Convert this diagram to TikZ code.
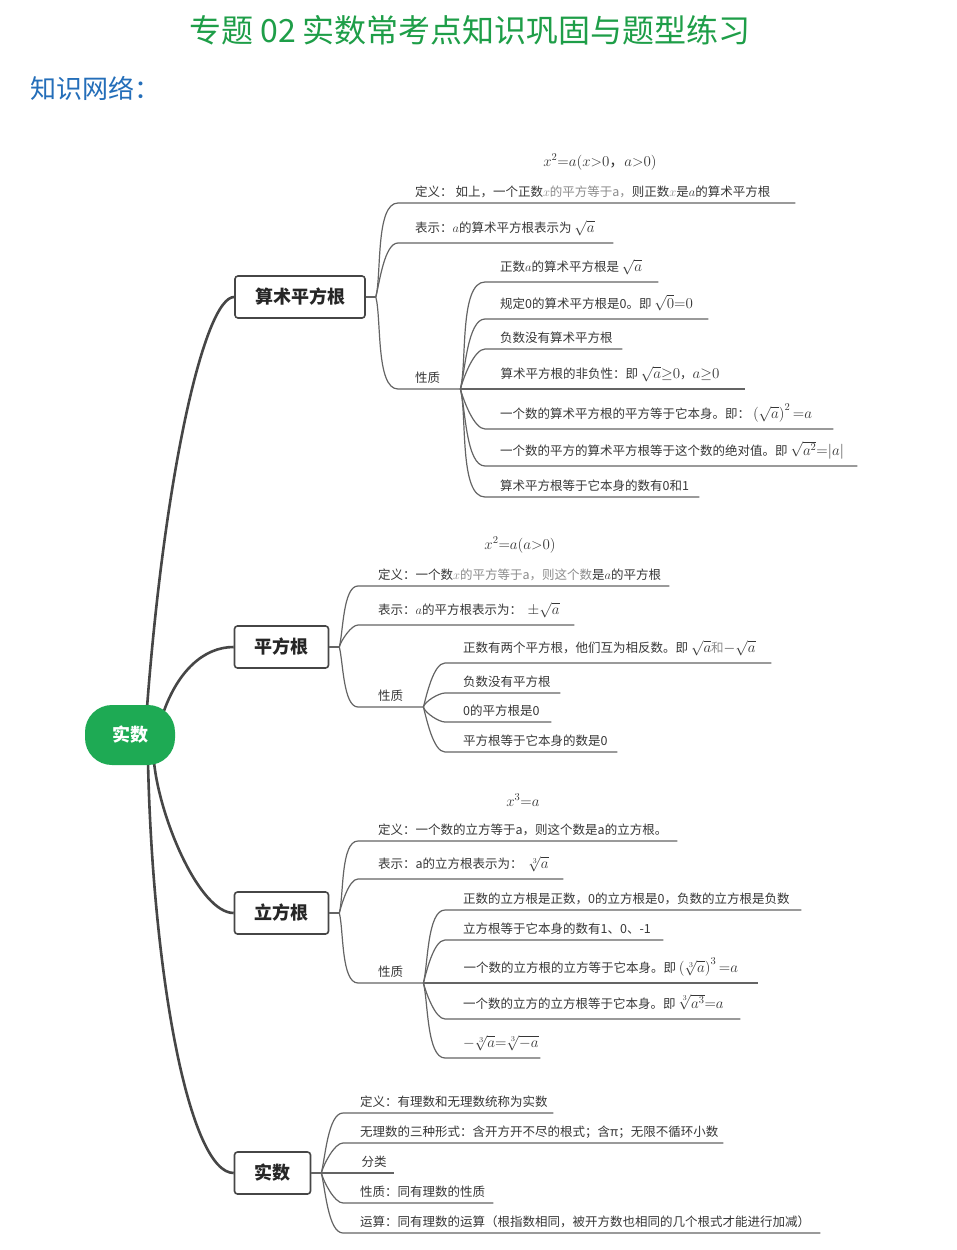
\RequirePackage{fix-cm}
\documentclass[tikz,border=0pt]{standalone}
\usepackage{tikz}
\usepackage{fontspec}
\setmainfont{Noto Sans CJK SC}
\usetikzlibrary{calc}
\pgfdeclarelayer{bg}
\pgfdeclarelayer{paper}
\pgfsetlayers{paper,bg,main}
\definecolor{ttl}{RGB}{30,158,72}
\definecolor{blu}{RGB}{36,110,185}
\definecolor{rootg}{RGB}{30,170,84}
\definecolor{ln}{RGB}{70,70,70}
\definecolor{brl}{RGB}{100,100,100}
\definecolor{txt}{RGB}{55,55,55}
\definecolor{ltg}{RGB}{140,140,140}
\newcommand\lgt{\color{ltg}}
\newcommand\leafbox[3]{\makebox[#1pt][l]{\hspace*{#2pt}#3}}
\newcommand\fm[1]{{\fontsize{15}{15}\selectfont$#1$}}
\begin{document}
\begin{tikzpicture}[x=1pt,y=-1pt,
  topic/.style={draw=ln, line width=1.6pt, rounded corners=3pt, fill=white, minimum height=42pt, inner xsep=20pt, font=\fontsize{18}{18}\selectfont\bfseries, text=black!85},
  rootn/.style={fill=rootg, rounded corners=27pt, minimum width=90pt, minimum height=60pt, text=white, font=\fontsize{18}{18}\selectfont\bfseries},
  mainl/.style={draw=ln, line width=2.6pt},
  br/.style={draw=brl, line width=1.2pt},
  leaf/.style={anchor=south west, inner sep=0pt, text depth=6.2pt, text=txt, font=\fontsize{12.5}{14}\selectfont},
  fml/.style={text depth=10.5pt},
  brup/.style={out=75,in=180,looseness=0.6},
  brdn/.style={out=-75,in=180,looseness=0.6},
  eqn/.style={font=\fontsize{15}{15}\selectfont, text=txt, inner sep=0pt}]
\begin{pgfonlayer}{paper}
\fill[white] (0,0) rectangle (957,1250);
\end{pgfonlayer}
\useasboundingbox (0,0) rectangle (957,1250);

% titles
\node[text=ttl, font=\fontsize{32}{32}\selectfont] (title) at (470,30) {专题 02 实数常考点知识巩固与题型练习};
\node[text=blu, anchor=west, font=\fontsize{26}{26}\selectfont, inner sep=0pt] (kw) at (30,88) {知识网络：};

% root and topics
\node[rootn] (root) at (130,735) {实数};
\node[topic] (t1) at (300,297) {算术平方根};
\node[topic] (t2) at (281.5,647) {平方根};
\node[topic] (t3) at (281.5,913) {立方根};
\node[topic] (t4) at (272.5,1173) {实数};

\coordinate (s1) at ($(root.north)+(17,3)$);
\coordinate (s2) at ($(root.north)+(34,6)$);
\coordinate (s3) at ($(root.south)+(24,-3)$);
\coordinate (s4) at ($(root.south)+(18,-3)$);
\begin{pgfonlayer}{bg}
\draw[mainl] (s1) .. controls (165,470) and (205,297) .. (t1.west);
\draw[mainl] (s2) .. controls (178,672) and (203,647) .. (t2.west);
\draw[mainl] (s3) .. controls (160,820) and (200,913) .. (t3.west);
\draw[mainl] (s4) .. controls (153,980) and (190,1173) .. (t4.west);
\end{pgfonlayer}

% forks
\coordinate (k1) at ($(t1.east)+(10,0)$);
\coordinate (k2) at ($(t2.east)+(10,0)$);
\coordinate (k3) at ($(t3.east)+(10,0)$);
\coordinate (k4) at ($(t4.east)+(10,0)$);
\draw[br] (t1.east) -- (k1);
\draw[br] (t2.east) -- (k2);
\draw[br] (t3.east) -- (k3);
\draw[br] (t4.east) -- (k4);

% ===== 算术平方根 =====
\node[eqn] (q1) at (600,162) {$x^2{=}a(x{>}0$，$a{>}0)$};
\node[leaf] (a11) at (398,203) {\leafbox{397}{17}{定义：~如上，一个正数{\lgt $x$的平方等于a，}则正数{\lgt $x$}是$a$的算术平方根}};
\node[leaf,fml] (a12) at (398,243) {\leafbox{215}{17}{表示：$a$的算术平方根表示为~\fm{\sqrt{a}}}};
\node[leaf] (a13) at (398,389) {\leafbox{62}{17}{性质}};
\draw[br] (k1) to[brup] (a11.south west) -- (a11.south east);
\draw[br] (k1) to[brup] (a12.south west) -- (a12.south east);
\draw[br] (k1) to[brdn] (a13.south west) -- (a13.south east);

\node[leaf,fml] (b1) at (485,282) {\leafbox{173}{15}{正数$a$的算术平方根是~\fm{\sqrt{a}}}};
\node[leaf,fml] (b2) at (485,319) {\leafbox{223}{15}{规定0的算术平方根是0。即~\fm{\sqrt{0}{=}0}}};
\node[leaf] (b3) at (485,349) {\leafbox{137}{15}{负数没有算术平方根}};
\node[leaf,fml] (b4) at (a13.south east) {\leafbox{284}{40}{算术平方根的非负性：即~\fm{\sqrt{a}{\geq}0}，\fm{a{\geq}0}}};
\node[leaf,fml] (b5) at (485,429) {\leafbox{348}{15}{一个数的算术平方根的平方等于它本身。即：~\fm{\left(\sqrt{a}\right)^2{=}a}}};
\node[leaf,fml] (b6) at (485,466) {\leafbox{372}{15}{一个数的平方的算术平方根等于这个数的绝对值。即~\fm{\sqrt{a^2}{=}|a|}}};
\node[leaf] (b7) at (485,497) {\leafbox{214}{15}{算术平方根等于它本身的数有0和1}};
\draw[br] (a13.south east) to[brup] (b1.south west) -- (b1.south east);
\draw[br] (a13.south east) to[brup] (b2.south west) -- (b2.south east);
\draw[br] (a13.south east) to[brup] (b3.south west) -- (b3.south east);
\draw[br] (a13.south east) -- (b4.south east);
\draw[br] (a13.south east) to[brdn] (b5.south west) -- (b5.south east);
\draw[br] (a13.south east) to[brdn] (b6.south west) -- (b6.south east);
\draw[br] (a13.south east) to[brdn] (b7.south west) -- (b7.south east);

% ===== 平方根 =====
\node[eqn] (q2) at (520,545) {$x^2{=}a(a{>}0)$};
\node[leaf] (c1) at (358,586) {\leafbox{311}{20}{定义：一个数{\lgt $x$的平方等于a，则这个数}是$a$的平方根}};
\node[leaf,fml] (c2) at (358,625) {\leafbox{216}{20}{表示：$a$的平方根表示为：~~\fm{\pm\sqrt{a}}}};
\node[leaf] (c3) at (358,707) {\leafbox{65}{20}{性质}};
\draw[br] (k2) to[brup] (c1.south west) -- (c1.south east);
\draw[br] (k2) to[brup] (c2.south west) -- (c2.south east);
\draw[br] (k2) to[brdn] (c3.south west) -- (c3.south east);

\node[leaf,fml] (d1) at (445,663) {\leafbox{326}{18}{正数有两个平方根，他们互为相反数。即~\fm{\sqrt{a}}{\lgt 和}\fm{{-}\sqrt{a}}}};
\node[leaf] (d2) at (445,693) {\leafbox{115}{18}{负数没有平方根}};
\node[leaf] (d3) at (445,722) {\leafbox{106}{18}{0的平方根是0}};
\node[leaf] (d4) at (445,752) {\leafbox{172}{18}{平方根等于它本身的数是0}};
\draw[br] (c3.south east) to[brup] (d1.south west) -- (d1.south east);
\draw[br] (c3.south east) to[brup] (d2.south west) -- (d2.south east);
\draw[br] (c3.south east) to[brdn] (d3.south west) -- (d3.south east);
\draw[br] (c3.south east) to[brdn] (d4.south west) -- (d4.south east);

% ===== 立方根 =====
\node[eqn] (q3) at (523,800) {$x^3{=}a$};
\node[leaf] (e1) at (358,841) {\leafbox{319}{20}{定义：一个数的立方等于a，则这个数是a的立方根。}};
\node[leaf,fml] (e2) at (358,879) {\leafbox{205}{20}{表示：a的立方根表示为：~~\fm{\sqrt[3]{a}}}};
\node[leaf] (e3) at (358,983) {\leafbox{65}{20}{性质}};
\draw[br] (k3) to[brup] (e1.south west) -- (e1.south east);
\draw[br] (k3) to[brup] (e2.south west) -- (e2.south east);
\draw[br] (k3) to[brdn] (e3.south west) -- (e3.south east);

\node[leaf] (g1) at (445,910) {\leafbox{356}{18}{正数的立方根是正数，0的立方根是0，负数的立方根是负数}};
\node[leaf] (g2) at (445,940) {\leafbox{218}{18}{立方根等于它本身的数有1、0、-1}};
\node[leaf,fml] (g3) at (e3.south east) {\leafbox{334}{40}{一个数的立方根的立方等于它本身。即~\fm{\left(\sqrt[3]{a}\right)^3{=}a}}};
\node[leaf,fml] (g4) at (445,1019) {\leafbox{295}{18}{一个数的立方的立方根等于它本身。即~\fm{\sqrt[3]{a^3}{=}a}}};
\node[leaf,fml] (g5) at (445,1058) {\leafbox{95}{18}{\fm{{-}\sqrt[3]{a}{=}\sqrt[3]{{-}a}}}};
\draw[br] (e3.south east) to[brup] (g1.south west) -- (g1.south east);
\draw[br] (e3.south east) to[brup] (g2.south west) -- (g2.south east);
\draw[br] (e3.south east) -- (g3.south east);
\draw[br] (e3.south east) to[brdn] (g4.south west) -- (g4.south east);
\draw[br] (e3.south east) to[brdn] (g5.south west) -- (g5.south east);

% ===== 实数 =====
\node[leaf] (h1) at (343,1113) {\leafbox{210}{17}{定义：有理数和无理数统称为实数}};
\node[leaf] (h2) at (343,1143) {\leafbox{380}{17}{无理数的三种形式：含开方开不尽的根式；含π；无限不循环小数}};
\node[leaf] (h3) at (k4) {\leafbox{72}{40}{分类}};
\node[leaf] (h4) at (343,1203) {\leafbox{150}{17}{性质：同有理数的性质}};
\node[leaf] (h5) at (343,1233) {\leafbox{477}{17}{运算：同有理数的运算（根指数相同，被开方数也相同的几个根式才能进行加减）}};
\draw[br] (k4) to[brup] (h1.south west) -- (h1.south east);
\draw[br] (k4) to[brup] (h2.south west) -- (h2.south east);
\draw[br] (k4) -- (h3.south east);
\draw[br] (k4) to[brdn] (h4.south west) -- (h4.south east);
\draw[br] (k4) to[brdn] (h5.south west) -- (h5.south east);
\end{tikzpicture}
\end{document}
